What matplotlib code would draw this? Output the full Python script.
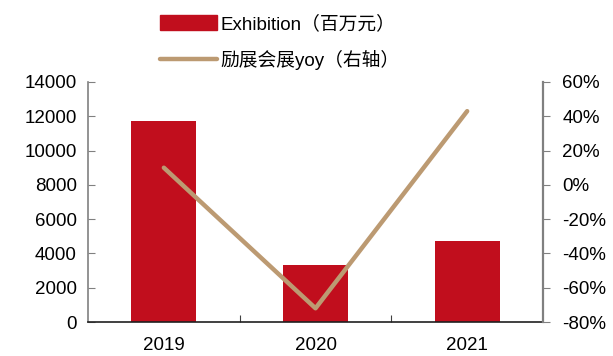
import matplotlib.pyplot as plt
import matplotlib.patches as mpatches
from matplotlib.lines import Line2D
from matplotlib.ticker import FuncFormatter

plt.rcParams['font.family'] = ['Liberation Sans', 'Noto Sans CJK SC']

# data
years = ['2019', '2020', '2021']
revenue = [11700, 3300, 4700]      # 百万元
yoy = [10, -72, 43]                # %

bar_color = '#C10E1D'
line_color = '#BC9A72'
spine_gray = '#808080'

fig = plt.figure(figsize=(6.13, 3.56), dpi=100)
ax = fig.add_axes([0.1436, 0.0955, 0.7422, 0.6742])
x = range(len(years))
ax.bar(x, revenue, width=0.43, color=bar_color, zorder=2)
ax.set_xlim(-0.5, 2.5)
ax.set_ylim(0, 14000)
ax.set_yticks(range(0, 14001, 2000))
ax.set_xticks([0.5, 1.5])
ax.set_xticklabels([])
ax.set_xticks(list(x), minor=True)
ax.set_xticklabels(years, minor=True)
ax.tick_params(axis='x', which='minor', length=0, labelsize=13.5, pad=11)
ax.tick_params(axis='x', which='major', direction='in', length=5, color='#404040')
ax.tick_params(axis='y', direction='in', length=5, color=spine_gray, labelsize=13.5, pad=8)

for s in ['top', 'right']:
    ax.spines[s].set_visible(False)
ax.spines['left'].set_color(spine_gray)
ax.spines['left'].set_linewidth(1.2)
ax.spines['bottom'].set_color('#202020')
ax.spines['bottom'].set_linewidth(1.2)
ax.spines['bottom'].set_zorder(3)

# yoy on the right axis
ax2 = ax.twinx()
ax2.plot(list(x), yoy, color=line_color, linewidth=3.2, solid_capstyle='round', zorder=3)
ax2.set_ylim(-80, 60)
ax2.set_yticks(range(-80, 61, 20))
ax2.yaxis.set_major_formatter(FuncFormatter(lambda v, p: f'{v:.0f}%'))
ax2.tick_params(axis='y', direction='out', length=5, color=spine_gray, labelsize=13.5, pad=9)
for s in ['top', 'left', 'bottom']:
    ax2.spines[s].set_visible(False)
ax2.spines['right'].set_color(spine_gray)
ax2.spines['right'].set_linewidth(1.6)

handles = [mpatches.Patch(color=bar_color),
           Line2D([], [], color=line_color, linewidth=3.2, solid_capstyle='round')]
labels = ['Exhibition（百万元）', '励展会展yoy（右轴）']
fig.legend(handles, labels, loc='upper left', bbox_to_anchor=(0.234, 1.006),
           frameon=False, fontsize=13.5, handlelength=3.0, handleheight=0.9,
           handletextpad=0.2, labelspacing=0.9)

fig.savefig('out.png', dpi=100)
